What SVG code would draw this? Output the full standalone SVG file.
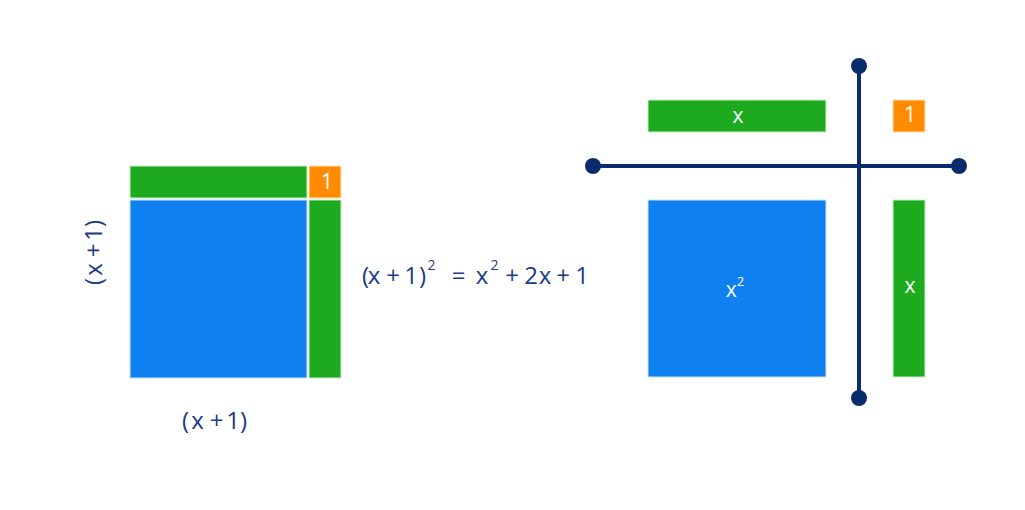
<svg xmlns="http://www.w3.org/2000/svg" width="1025" height="510" viewBox="0 0 1025 510">
<style>
.g{fill:#1eaa1f;stroke:#c9efc9;stroke-width:1}
.b{fill:#0f80ef;stroke:#c9e3fb;stroke-width:1}
.o{fill:#ff8b00;stroke:#ffe0b8;stroke-width:1}
.wt{font-family:"Open Sans",sans-serif;font-size:21px;fill:#ffffff;text-anchor:middle}
.nt{font-family:"Open Sans",sans-serif;font-size:24px;fill:#1c3c84;text-anchor:middle}
.sup{font-size:14px}
.ln{stroke:#0b2c6c;stroke-width:4;fill:none}
.dot{fill:#0b2c6c}
</style>
<rect width="1025" height="510" fill="#ffffff"/>
<g id="left-square">
<rect class="g" x="130" y="166" width="177" height="32"/>
<rect class="o" x="309" y="166" width="32" height="32"/>
<text class="wt" x="327" y="189">1</text>
<rect class="b" x="130" y="200" width="177" height="178"/>
<rect class="g" x="309" y="200" width="32" height="178"/>
</g>
<g id="left-labels">
<text class="nt" y="429"><tspan x="185.5">(</tspan><tspan x="197.5">x</tspan><tspan x="216.5">+</tspan><tspan x="233">1</tspan><tspan x="243.5">)</tspan></text>
<text class="nt" transform="translate(102,253) rotate(-90)" y="0"><tspan x="-28.5">(</tspan><tspan x="-16.5">x</tspan><tspan x="2.5">+</tspan><tspan x="19">1</tspan><tspan x="29.5">)</tspan></text>
</g>
<g id="equation">
<text class="nt" y="284"><tspan x="365.5">(</tspan><tspan x="374">x</tspan><tspan x="393">+</tspan><tspan x="411">1</tspan><tspan x="422.5">)</tspan><tspan class="sup" x="431.5" y="270">2</tspan><tspan x="458.5" y="284">=</tspan><tspan x="482">x</tspan><tspan class="sup" x="494.5" y="270">2</tspan><tspan x="512" y="284">+</tspan><tspan x="531">2</tspan><tspan x="545">x</tspan><tspan x="563">+</tspan><tspan x="582">1</tspan></text>
</g>
<g id="connectors">
<line class="ln" x1="593" y1="166" x2="959" y2="166"/>
<line class="ln" x1="859" y1="66" x2="859" y2="398"/>
<circle class="dot" cx="593" cy="166" r="8"/>
<circle class="dot" cx="959" cy="166" r="8"/>
<circle class="dot" cx="859" cy="66" r="8"/>
<circle class="dot" cx="859" cy="398" r="8"/>
</g>
<g id="top-x">
<rect class="g" x="648" y="100" width="178" height="32"/>
<text class="wt" x="738" y="123">x</text>
</g>
<g id="top-1">
<rect class="o" x="893" y="100" width="32" height="32"/>
<text class="wt" x="910" y="122">1</text>
</g>
<g id="x-squared">
<rect class="b" x="648" y="200" width="178" height="177"/>
<text class="wt" x="735" y="297">x<tspan style="font-size:13px" dy="-11">2</tspan></text>
</g>
<g id="right-x">
<rect class="g" x="893" y="200" width="32" height="177"/>
<text class="wt" x="910" y="293">x</text>
</g>
</svg>
